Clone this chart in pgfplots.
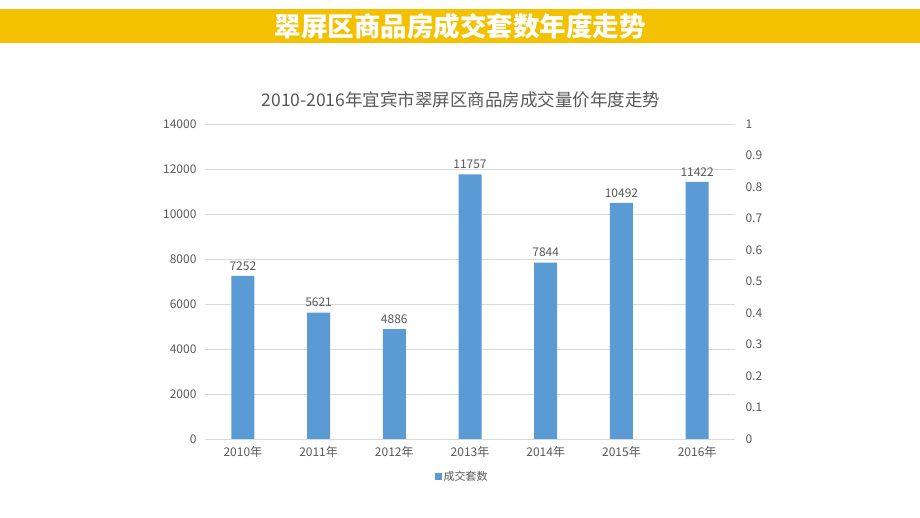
\documentclass[border=0pt]{standalone}
\usepackage{fontspec}
\setmainfont{Noto Sans CJK SC}
\usepackage{pgfplots}
\pgfplotsset{compat=1.18}

\definecolor{banner}{HTML}{F4C100}
\definecolor{barblue}{HTML}{5B9BD5}
\definecolor{txt}{HTML}{595959}
\definecolor{gridc}{HTML}{D9D9D9}

\begin{document}
\begin{tikzpicture}[x=1pt,y=1pt]
% canvas and banner
\fill[white] (0,0) rectangle (920,518);
\fill[banner] (0,475) rectangle (920,509);
\node[text=white, font=\fontsize{26.5}{28}\selectfont\bfseries] at (460,492) {翠屏区商品房成交套数年度走势};
\node[text=txt, font=\fontsize{17.5}{19}\selectfont] at (461,418) {2010-2016年宜宾市翠屏区商品房成交量价年度走势};

\begin{axis}[
    at={(205pt,79pt)}, anchor=south west,
    width=530pt, height=315pt, scale only axis,
    xmin=-0.5, xmax=6.5, ymin=0, ymax=14000,
    xtick={0,...,6},
    xticklabels={2010年,2011年,2012年,2013年,2014年,2015年,2016年},
    ytick={0,2000,...,14000},
    scaled y ticks=false,
    axis line style={draw=none},
    major tick length=0pt,
    ymajorgrids, grid style={gridc, line width=0.8pt},
    ticklabel style={font=\fontsize{12}{14}\selectfont, text=txt},
    /pgf/number format/assume math mode=true,
    /pgf/number format/1000 sep={},
    yticklabel style={xshift=-5pt},
    xticklabel style={yshift=-4pt},
    legend style={at={(0.485,-0.12)}, anchor=center, draw=none,
        font=\fontsize{11}{13}\selectfont, text=txt},
    legend image code/.code={\fill[barblue] (0pt,-3.5pt) rectangle (7pt,3.5pt);},
]
\addplot[ybar, bar width=23pt, fill=barblue, draw=none,
    nodes near coords,
    every node near coord/.append style={font=\fontsize{12}{14}\selectfont, text=txt, yshift=2pt}]
    coordinates {(0,7252) (1,5621) (2,4886) (3,11757) (4,7844) (5,10492) (6,11422)};
\addlegendentry{成交套数}
\end{axis}

\begin{axis}[
    at={(205pt,79pt)}, anchor=south west,
    width=530pt, height=315pt, scale only axis,
    xmin=-0.5, xmax=6.5, ymin=0, ymax=1,
    ytick={0,0.1,...,1.01},
    axis x line=none,
    axis y line*=right,
    axis line style={draw=none},
    major tick length=0pt,
    ticklabel style={font=\fontsize{12}{14}\selectfont, text=txt},
    /pgf/number format/assume math mode=true,
    yticklabel style={xshift=7pt},
]
\end{axis}
\end{tikzpicture}
\end{document}
